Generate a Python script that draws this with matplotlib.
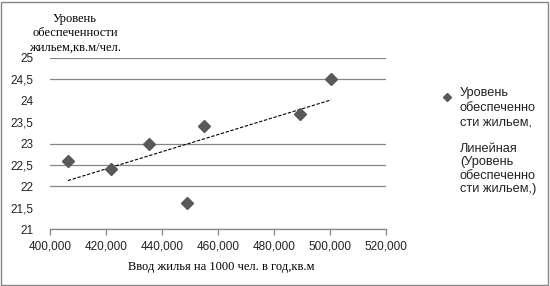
import numpy as np
import matplotlib
matplotlib.use("Agg")
import matplotlib.pyplot as plt
from matplotlib.lines import Line2D
from matplotlib.patches import Rectangle
from matplotlib.ticker import FuncFormatter

# Data
housing_input = [406400, 421800, 435400, 448900, 455000, 489300, 500400]
provision = [22.6, 22.4, 23.0, 21.6, 23.4, 23.7, 24.5]
grid_levels = [21, 22, 22.5, 23, 24.5, 25]
y_ticks = [21, 21.5, 22, 22.5, 23, 23.5, 24, 24.5, 25]
x_ticks = [400000, 420000, 440000, 460000, 480000, 500000, 520000]

W, H = 550, 286
fig = plt.figure(figsize=(W / 100, H / 100), dpi=100)
ax = fig.add_axes([50 / W, 1 - 229 / H, (386 - 50) / W, (229 - 58) / H])

gray = "#868686"
for g in grid_levels:
    ax.axhline(g, color=gray, lw=0.9, zorder=1)

# trend line
k, b = np.polyfit(housing_input, provision, 1)
xs = np.array([min(housing_input), max(housing_input)])
ax.plot(xs, k * xs + b, color="black", lw=0.8, ls=(0, (3, 1.5)), zorder=2)

ax.plot(housing_input, provision, ls="none", marker="D", ms=6.5,
        color="#595959", mec="#595959", zorder=3)

ax.set_xlim(400000, 520000)
ax.set_ylim(21, 25)
ax.set_xticks(x_ticks)
ax.set_yticks(y_ticks)
ax.xaxis.set_major_formatter(FuncFormatter(lambda v, p: f"{int(v):,}"))
ax.yaxis.set_major_formatter(FuncFormatter(lambda v, p: (f"{v:g}").replace(".", ",")))
for s in ["top", "right", "left"]:
    ax.spines[s].set_visible(False)
ax.spines["bottom"].set_color(gray)
ax.spines["bottom"].set_linewidth(0.9)
ax.tick_params(axis="y", length=0, pad=12, labelsize=8.5, labelcolor="#222222")
ax.tick_params(axis="x", length=4, width=0.9, color=gray, direction="out", pad=4,
               labelsize=8.5, labelcolor="#222222")
for lab in ax.get_xticklabels() + ax.get_yticklabels():
    lab.set_fontfamily("Liberation Sans")

fig.text(75 / W, 1 - 33 / H, "Уровень\nобеспеченности\nжильем,кв.м/чел.",
         ha="center", va="center", fontsize=9, family="Liberation Serif",
         linespacing=1.25)
fig.text(221 / W, 1 - 267 / H, "Ввод жилья на 1000 чел. в год,кв.м",
         ha="center", va="center", fontsize=9, family="Liberation Serif")

# legend (manual)
fig.add_artist(Line2D([447 / W], [1 - 97 / H], marker="D", ms=4, color="#595959",
                      ls="none", transform=fig.transFigure))
fig.text(460 / W, 1 - 87 / H, "Уровень\nобеспеченно\nсти жильем,",
         ha="left", va="top", fontsize=9.2, family="Liberation Sans",
         linespacing=1.3, color="#222222")
fig.text(460 / W, 1 - 143 / H, "Линейная\n(Уровень\nобеспеченно\nсти жильем,)",
         ha="left", va="top", fontsize=9.2, family="Liberation Sans",
         linespacing=1.15, color="#222222")

fig.add_artist(Rectangle((1 / W, 1 / H), (W - 3) / W, (H - 3) / H,
                         transform=fig.transFigure, fill=False,
                         edgecolor=gray, lw=1))

fig.savefig("out.png", dpi=100)
